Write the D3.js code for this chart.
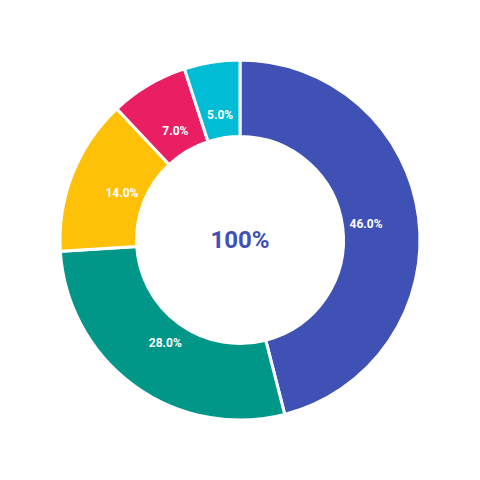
<!DOCTYPE html>
<html>
<head>
<meta charset="utf-8">
<script src="https://cdn.jsdelivr.net/npm/d3@7"></script>
<style>
  body { margin: 0; background: #fff; }
  svg { display: block; font-family: Roboto, "Noto Sans", sans-serif; }
</style>
</head>
<body>
<div id="chart"></div>
<script>
// slice data
var categories = ["A", "B", "C", "D", "E"];
var values = [46, 28, 14, 7, 5];
var colors = ["#3F51B5", "#009688", "#FFC107", "#E91E63", "#00BCD4"];
var totalLabel = "100%";

var width = 480, height = 480;
var outerR = 180, innerR = 103.5, labelR = 127;

var svg = d3.select("#chart")
    .append("svg")
    .attr("width", width)
    .attr("height", height)
    .append("g")
    .attr("transform", "translate(240,240)");

var data = categories.map(function(c, i) { return {name: c, value: values[i], color: colors[i]}; });
var total = d3.sum(values);

var pie = d3.pie()
    .value(function(d) { return d.value; })
    .sort(null);

var arc = d3.arc().innerRadius(innerR).outerRadius(outerR);
var labelArc = d3.arc().innerRadius(labelR).outerRadius(labelR);

var arcs = pie(data);

svg.selectAll("path.slice")
    .data(arcs)
    .enter()
    .append("path")
    .attr("class", "slice")
    .attr("d", arc)
    .style("fill", function(d) { return d.data.color; })
    .style("stroke", "#fff")
    .style("stroke-width", 3);

svg.selectAll("text.lbl")
    .data(arcs)
    .enter()
    .append("text")
    .attr("class", "lbl")
    .attr("transform", function(d) { return "translate(" + labelArc.centroid(d) + ")"; })
    .attr("text-anchor", "middle")
    .attr("dy", "0.35em")
    .style("fill", "#fff")
    .style("font-size", "12px")
    .style("font-weight", "bold")
    .text(function(d) { return (d.data.value / total * 100).toFixed(1) + "%"; });

svg.append("text")
    .attr("text-anchor", "middle")
    .attr("dy", "0.35em")
    .style("fill", "#3F51B5")
    .style("font-size", "24px")
    .style("font-weight", "bold")
    .text(totalLabel);
</script>
</body>
</html>
